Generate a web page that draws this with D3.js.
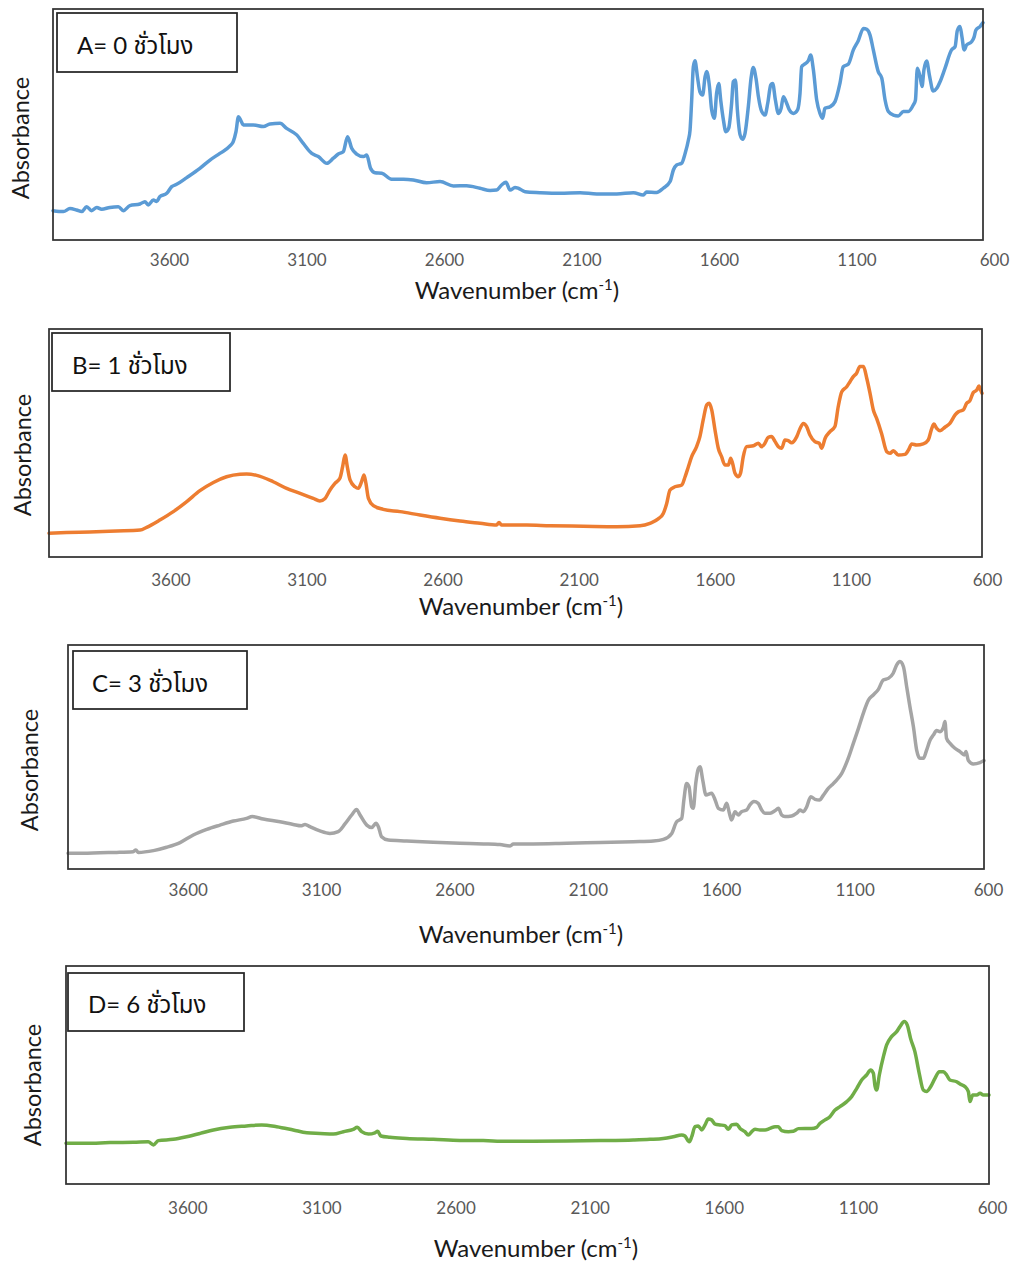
<!DOCTYPE html>
<html>
<head>
<meta charset="utf-8">
<script src="https://cdn.jsdelivr.net/npm/d3@7"></script>
<style>
  html, body { margin: 0; padding: 0; background: #ffffff; }
  svg { display: block; }
  text { font-family: Lato, "Noto Sans Thai", "Noto Sans", "DejaVu Sans", sans-serif; }
</style>
</head>
<body>
<svg id="chart" width="1011" height="1264"></svg>
<script>
// ---------- data ----------
const wavenumberTicks = [3600, 3100, 2600, 2100, 1600, 1100, 600];
const panelLabels = ["A= 0 ชั่วโมง", "B= 1 ชั่วโมง", "C= 3 ชั่วโมง", "D= 6 ชั่วโมง"];
const xTitle = "Wavenumber (cm";
const xTitleSup = "-1";
const yTitle = "Absorbance";

// Panel A (0 h) – wavenumber (cm-1) and relative absorbance
const waveA = [4000,3962,3938,3914,3895,3877,3859,3840,3822,3792,3761,3743,3719,3682,3664,3652,3633,3621,3609,3584,3566,3548,3511,3463,3426,3390,3353,3341,3331,3322,3314,3304,3268,3231,3207,3170,3146,3109,3085,3054,3030,2999,2975,2957,2939,2923,2908,2890,2865,2853,2839,2823,2798,2762,2719,2683,2634,2585,2536,2488,2439,2402,2378,2360,2344,2329,2311,
  2299,2274,2220,2146,2073,2012,1939,1878,1842,1830,1793,1769,1744,1732,1720,1702,1689,1677,1671,1665,1659,1653,1644,1635,1625,1616,1610,1600,1592,1582,1574,1566,1559,1549,1540,1530,1519,1513,1505,1498,1488,1479,1470,1458,1448,1440,1430,1421,1409,1397,1387,1376,1369,1359,1348,1338,1330,1320,1308,1293,1278,1269,1263,1254,1239,1230,1220,1208,1196,1186,1178,1159,1141,1123,1111,1092,1074,1056,1037,1025,1013,1001,983,970,958,946,928,910,891,873,855,847,840,830,823,816,806,796,782,769,757,739,715,702,694,684,677,669,660,641,633,626,611,600];
const absA = [0.127,0.123,0.136,0.130,0.123,0.144,0.127,0.141,0.133,0.141,0.144,0.127,0.149,0.156,0.166,0.152,0.173,0.167,0.188,0.202,0.231,0.241,0.270,0.310,0.346,0.375,0.407,0.426,0.469,0.534,0.519,0.498,0.498,0.491,0.502,0.505,0.483,0.455,0.418,0.375,0.361,0.332,0.354,0.372,0.382,0.447,0.397,0.372,0.361,0.368,0.310,0.291,0.289,0.263,0.263,0.260,0.248,0.253,0.234,0.235,0.224,0.214,0.216,0.238,0.250,0.216,0.227,
  0.224,0.209,0.205,0.202,0.205,0.199,0.199,0.205,0.195,0.208,0.206,0.224,0.253,0.303,0.325,0.332,0.375,0.433,0.476,0.606,0.750,0.776,0.707,0.642,0.628,0.707,0.729,0.664,0.563,0.527,0.635,0.678,0.606,0.519,0.469,0.483,0.592,0.685,0.693,0.563,0.455,0.436,0.462,0.577,0.700,0.747,0.700,0.620,0.556,0.541,0.592,0.671,0.678,0.606,0.548,0.570,0.620,0.599,0.563,0.548,0.563,0.635,0.750,0.760,0.775,0.801,0.736,0.606,0.548,0.527,0.570,0.577,0.599,0.678,0.750,0.762,0.823,0.863,0.916,0.912,0.887,0.823,0.729,0.700,0.606,0.556,0.541,0.537,0.556,0.556,0.584,0.606,0.743,0.707,0.664,0.736,0.775,0.714,0.645,0.657,0.685,0.743,0.823,0.837,0.906,0.924,0.880,0.823,0.844,0.859,0.877,0.909,0.924,0.941];

// Panel B (1 h)
const waveB = [4000,3936,3851,3754,3668,3644,3596,3547,3498,3450,3401,3353,3304,3280,3243,3183,3134,3085,3037,3013,2994,2976,2958,2940,2930,2921,2913,2903,2885,2873,2861,2852,2845,2836,2818,2782,2721,2648,2575,2502,2429,2369,2360,2351,
  2259,2174,2053,1931,1846,1810,1780,1761,1749,1737,1719,1694,1682,1670,1658,1640,1628,1616,1603,1594,1585,1573,1561,1549,1537,1524,1516,1509,1500,1488,1480,1470,1458,1433,1415,1403,1391,1379,1367,1354,1342,1330,1318,1306,1294,1275,1263,1251,1239,1227,1209,1193,1184,1172,1154,1136,1124,1111,1093,1081,1069,1057,1045,1032,1020,1008,996,984,966,947,935,923,905,881,868,856,838,814,796,783,775,765,753,735,717,698,686,668,656,644,632,619,611,605,600];
const absB = [0.104,0.107,0.110,0.114,0.118,0.130,0.162,0.199,0.243,0.291,0.327,0.352,0.363,0.364,0.358,0.330,0.301,0.279,0.257,0.246,0.257,0.294,0.323,0.345,0.396,0.447,0.396,0.338,0.308,0.301,0.330,0.360,0.323,0.257,0.225,0.209,0.199,0.184,0.170,0.158,0.148,0.140,0.151,0.140,
  0.140,0.137,0.135,0.133,0.137,0.148,0.167,0.192,0.235,0.294,0.308,0.316,0.352,0.396,0.440,0.484,0.528,0.601,0.667,0.674,0.645,0.557,0.477,0.440,0.404,0.404,0.433,0.411,0.367,0.352,0.367,0.440,0.484,0.488,0.499,0.484,0.499,0.525,0.528,0.506,0.484,0.477,0.513,0.510,0.501,0.528,0.564,0.586,0.572,0.535,0.506,0.499,0.477,0.520,0.550,0.572,0.659,0.725,0.747,0.769,0.791,0.806,0.835,0.835,0.784,0.718,0.645,0.608,0.542,0.462,0.455,0.466,0.447,0.450,0.469,0.496,0.491,0.496,0.513,0.564,0.583,0.564,0.554,0.569,0.586,0.623,0.637,0.645,0.674,0.686,0.721,0.732,0.750,0.732,0.718];

// Panel C (3 h)
const waveC = [4000,3943,3881,3819,3758,3748,3739,3683,3634,3584,3535,3485,3436,3386,3337,3316,3275,3213,3164,3133,3120,3102,3065,3028,2997,2972,2947,2929,2916,2891,2873,2857,2848,2836,2811,2743,2644,2545,2458,2397,2359,2347,
  2273,2149,2025,1902,1827,1790,1759,1741,1722,1714,1704,1695,1685,1679,1670,1660,1654,1644,1632,1611,1598,1586,1568,1555,1545,1537,1524,1512,1500,1481,1469,1454,1438,1425,1413,1394,1376,1363,1351,1339,1314,1295,1283,1271,1258,1243,1227,1211,1196,1178,1165,1147,1128,1104,1085,1066,1048,1029,1011,992,974,955,937,924,912,899,887,875,862,850,838,825,813,800,788,776,763,751,745,739,726,708,689,673,667,658,640,615,600];
const absC = [0.070,0.070,0.073,0.074,0.077,0.085,0.074,0.082,0.097,0.118,0.152,0.177,0.196,0.214,0.226,0.234,0.223,0.211,0.199,0.193,0.199,0.189,0.170,0.159,0.167,0.201,0.241,0.266,0.241,0.196,0.185,0.204,0.189,0.144,0.129,0.125,0.119,0.115,0.112,0.109,0.103,0.112,
  0.112,0.115,0.118,0.122,0.125,0.132,0.159,0.211,0.226,0.308,0.382,0.368,0.278,0.271,0.382,0.449,0.457,0.397,0.330,0.338,0.308,0.271,0.263,0.293,0.249,0.219,0.256,0.241,0.256,0.263,0.286,0.301,0.293,0.263,0.249,0.249,0.260,0.271,0.241,0.234,0.237,0.249,0.263,0.256,0.278,0.323,0.311,0.308,0.330,0.360,0.375,0.397,0.427,0.494,0.561,0.628,0.695,0.754,0.777,0.802,0.844,0.851,0.874,0.911,0.926,0.903,0.814,0.725,0.635,0.531,0.494,0.494,0.531,0.576,0.598,0.618,0.613,0.632,0.658,0.583,0.561,0.539,0.524,0.509,0.524,0.484,0.469,0.475,0.484];

// Panel D (6 h)
const waveD = [4000,3924,3838,3752,3697,3678,3660,3605,3556,3506,3457,3396,3335,3279,3224,3163,3113,3064,3015,2978,2942,2927,2911,2886,2862,2852,2840,2807,2745,2647,2549,2463,2377,
  2279,2156,2033,1910,1849,1800,1763,1732,1720,1704,1695,1683,1671,1658,1646,1634,1622,1609,1591,1573,1560,1548,1530,1517,1499,1487,1474,1462,1444,1425,1407,1388,1376,1364,1339,1321,1302,1278,1253,1235,1223,1204,1186,1167,1149,1124,1106,1087,1069,1051,1036,1026,1020,1014,1004,989,977,959,940,928,912,901,889,873,857,842,830,815,799,783,768,756,744,719,707,688,676,670,660,645,633,621,600];
const absD = [0.187,0.187,0.190,0.191,0.194,0.179,0.199,0.205,0.217,0.232,0.248,0.260,0.266,0.271,0.263,0.248,0.235,0.232,0.229,0.240,0.251,0.260,0.240,0.229,0.235,0.242,0.220,0.214,0.209,0.205,0.200,0.199,0.196,
  0.196,0.197,0.199,0.202,0.205,0.209,0.217,0.225,0.220,0.194,0.217,0.263,0.266,0.248,0.271,0.298,0.294,0.275,0.271,0.268,0.251,0.271,0.274,0.255,0.240,0.225,0.240,0.251,0.248,0.248,0.255,0.263,0.263,0.245,0.240,0.242,0.254,0.255,0.255,0.260,0.278,0.294,0.309,0.339,0.355,0.378,0.401,0.439,0.477,0.500,0.523,0.508,0.450,0.431,0.500,0.584,0.638,0.676,0.699,0.722,0.745,0.729,0.668,0.607,0.508,0.431,0.424,0.446,0.485,0.515,0.515,0.500,0.477,0.469,0.459,0.446,0.424,0.378,0.408,0.408,0.416,0.408,0.408];

const seriesWaves = [waveA, waveB, waveC, waveD];
const seriesAbs = [absA, absB, absC, absD];

// ---------- styling / layout ----------
const seriesColors = ["#5B9BD5", "#ED7D31", "#A5A5A5", "#70AD47"];
const layout = [
  {frame:[53,9,983,240],    lab:[59,994],   tickY:260,  titleX:517, titleY:291,  absX:21, absY:138,  box:[57,13,237,72],   text:[77,54]},
  {frame:[49,329,982,557],  lab:[61.5,987], tickY:580,  titleX:521, titleY:607,  absX:23, absY:455,  box:[52,333,230,391], text:[72,374]},
  {frame:[68,645,984,869],  lab:[81,988],   tickY:890,  titleX:521, titleY:935,  absX:30, absY:770,  box:[73,651,247,709], text:[92,692]},
  {frame:[66,966,989,1184], lab:[80,992],   tickY:1208, titleX:536, titleY:1249, absX:33, absY:1085, box:[68,973,244,1031], text:[88,1013]}
];

const svg = d3.select("#chart");
svg.append("rect").attr("width", 1011).attr("height", 1264).attr("fill", "#ffffff");

layout.forEach((L, i) => {
  const [x0, y0, x1, y1] = L.frame;
  const g = svg.append("g").attr("class", "panel");

  const x = d3.scaleLinear().domain([4000, 600]).range([x0, x1]);
  const xLab = d3.scaleLinear().domain([4000, 600]).range(L.lab);
  const y = d3.scaleLinear().domain([0, 1]).range([y1, y0]);

  const pts = seriesWaves[i].map((w, k) => [w, seriesAbs[i][k]]).filter(p => p[1] !== undefined);

  const line = d3.line().x(d => x(d[0])).y(d => y(d[1])).curve(d3.curveMonotoneX);

  g.append("path")
    .datum(pts)
    .attr("d", line)
    .attr("fill", "none")
    .attr("stroke", seriesColors[i])
    .attr("stroke-width", 3.5)
    .attr("stroke-linejoin", "round")
    .attr("stroke-linecap", "round");

  // plot frame
  g.append("rect")
    .attr("x", x0).attr("y", y0)
    .attr("width", x1 - x0).attr("height", y1 - y0)
    .attr("fill", "none").attr("stroke", "#333333").attr("stroke-width", 1.75);

  // tick labels via axis
  const axis = d3.axisBottom(xLab).tickValues(wavenumberTicks).tickSize(0).tickFormat(d3.format("d"));
  const ag = g.append("g").attr("transform", `translate(0,${L.tickY})`).call(axis);
  ag.select(".domain").remove();
  ag.selectAll("text")
    .attr("y", 0).attr("dy", "0.35em")
    .attr("fill", "#595959")
    .style("font-size", "17px")
    .style("font-family", "Lato, 'Noto Sans', sans-serif");

  // x title
  const t = g.append("text")
    .attr("x", L.titleX).attr("y", L.titleY)
    .attr("dy", "0.35em")
    .attr("text-anchor", "middle")
    .attr("fill", "#1a1a1a")
    .style("font-size", "24px");
  t.append("tspan").text(xTitle);
  t.append("tspan").text(xTitleSup).attr("dy", -9).style("font-size", "15px");
  t.append("tspan").text(")").attr("dy", 9);

  // y title
  g.append("text")
    .attr("transform", `translate(${L.absX},${L.absY}) rotate(-90)`)
    .attr("dy", "0.35em")
    .attr("text-anchor", "middle")
    .attr("fill", "#1a1a1a")
    .style("font-size", "23.5px")
    .text(yTitle);

  // label box
  const [bx0, by0, bx1, by1] = L.box;
  g.append("rect")
    .attr("x", bx0).attr("y", by0)
    .attr("width", bx1 - bx0).attr("height", by1 - by0)
    .attr("fill", "#ffffff").attr("stroke", "#262626").attr("stroke-width", 1.75);
  g.append("text")
    .attr("x", L.text[0]).attr("y", L.text[1])
    .attr("fill", "#111111")
    .style("font-size", "24px")
    .text(panelLabels[i]);
});
</script>
</body>
</html>
